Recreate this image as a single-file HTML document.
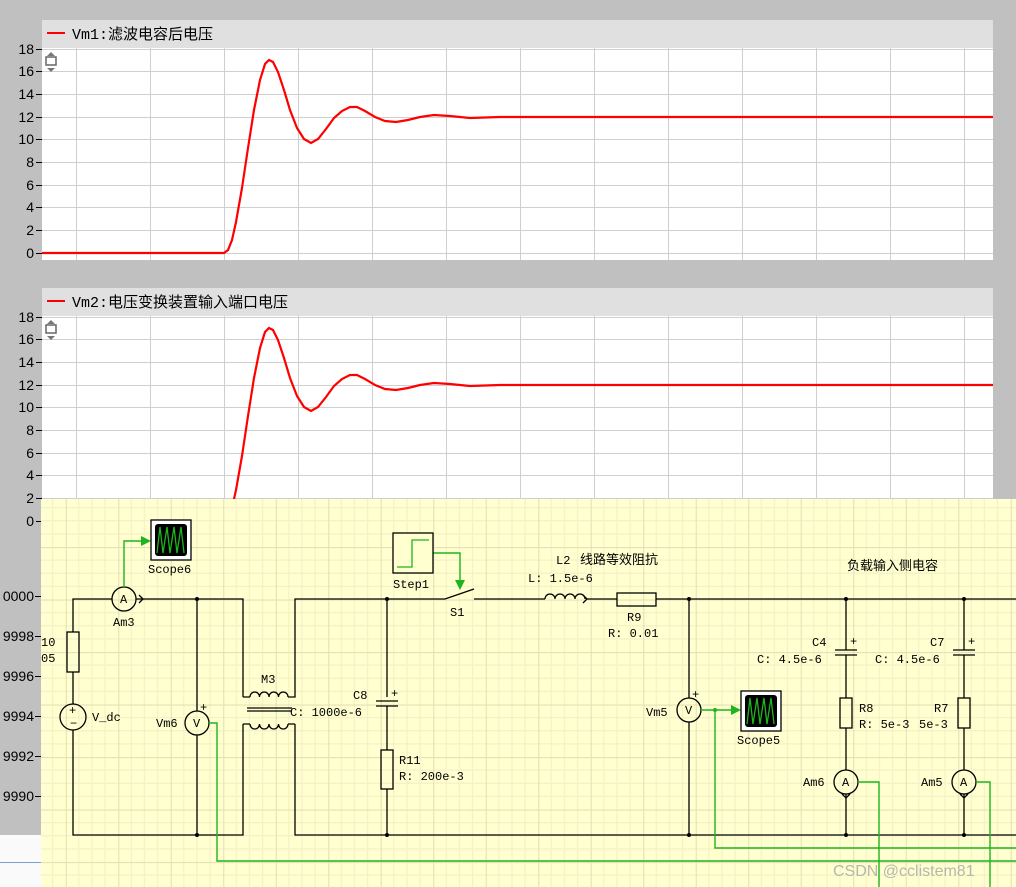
<!DOCTYPE html>
<html><head><meta charset="utf-8"><style>
html,body{margin:0;padding:0;background:#c0c0c0;}
svg{display:block}
.ax{font-family:"Liberation Sans",sans-serif;font-size:14px;fill:#000}
.hd{font-family:"Liberation Mono","Noto Sans CJK SC",monospace;font-size:15px;fill:#000}
.lb{font-family:"Liberation Mono","Noto Sans CJK SC",monospace;font-size:12px;fill:#000}
.cj{font-family:"Liberation Sans","Noto Sans CJK SC",sans-serif;font-size:13px;fill:#000}
</style></head><body>
<svg width="1016" height="887" viewBox="0 0 1016 887" xmlns="http://www.w3.org/2000/svg">
<defs>
<pattern id="g" x="65.7" y="494.5" width="52.5" height="52.5" patternUnits="userSpaceOnUse">
<rect width="52.5" height="52.5" fill="#ffffd0"/>
<path d="M13.1 0V52.5M26.25 0V52.5M39.4 0V52.5M0 13.1H52.5M0 26.25H52.5M0 39.4H52.5" stroke="#f4f1c6" stroke-width="1.2"/>
<path d="M0.5 0V52.5M0 0.5H52.5" stroke="#e5e1b6" stroke-width="1.2"/>
</pattern>
<clipPath id="p1"><rect x="42" y="48" width="951" height="212"/></clipPath>
<clipPath id="p2"><rect x="42" y="316" width="951" height="212"/></clipPath>
</defs>
<rect width="1016" height="887" fill="#c0c0c0"/>
<!-- panel 1 -->
<rect x="42" y="20" width="951" height="28" fill="#e0e0e0"/>
<rect x="42" y="48" width="951" height="212" fill="#fff"/>
<g stroke="#cfcfcf" stroke-width="1">
<path d="M76.5 48V260M150.5 48V260M224.5 48V260M298.5 48V260M372.5 48V260M446.5 48V260M520.5 48V260M594.5 48V260M668.5 48V260M742.5 48V260M816.5 48V260M890.5 48V260M964.5 48V260"/>
<path d="M42 49.5H993M42 71.5H993M42 94.5H993M42 117.5H993M42 139.5H993M42 162.5H993M42 185.5H993M42 207.5H993M42 230.5H993M42 253.5H993"/>
</g>
<g stroke="#000"><path d="M36 49.5H42M36 71.5H42M36 94.5H42M36 117.5H42M36 139.5H42M36 162.5H42M36 185.5H42M36 207.5H42M36 230.5H42M36 253.5H42"/></g>
<g class="ax" text-anchor="end">
<text x="34" y="54">18</text><text x="34" y="76">16</text><text x="34" y="99">14</text><text x="34" y="122">12</text><text x="34" y="144">10</text><text x="34" y="167">8</text><text x="34" y="190">6</text><text x="34" y="212">4</text><text x="34" y="235">2</text><text x="34" y="258">0</text>
</g>
<line x1="47" y1="33" x2="65" y2="33" stroke="#f00" stroke-width="2"/>
<text class="hd" x="72" y="39">Vm1:滤波电容后电压</text>
<g fill="#777"><path d="M51 52l-4 4h8z M51 72l-4-4h8z"/><rect x="46" y="57" width="10" height="8" fill="none" stroke="#666" stroke-width="1.5"/></g>
<path id="cv" clip-path="url(#p1)" fill="none" stroke="#f00" stroke-width="2.2" d="M40 253L224 253L228 250L232 240L236 222L242 188L248 148L254 110L260 80L265 64L269 60L273 62L278 72L284 90L290 110L297 128L304 139L311 143L318 139L326 129L334 118L342 111L350 107L357 107L365 111L375 117L385 121L396 122L408 120L420 117L434 115L450 116L470 118L500 117L540 117L993 117"/>
<!-- panel 2 -->
<rect x="42" y="288" width="951" height="28" fill="#e0e0e0"/>
<rect x="42" y="316" width="951" height="212" fill="#fff"/>
<g stroke="#cfcfcf" stroke-width="1" transform="translate(0,268)">
<path d="M76.5 48V260M150.5 48V260M224.5 48V260M298.5 48V260M372.5 48V260M446.5 48V260M520.5 48V260M594.5 48V260M668.5 48V260M742.5 48V260M816.5 48V260M890.5 48V260M964.5 48V260"/>
<path d="M42 49.5H993M42 71.5H993M42 94.5H993M42 117.5H993M42 139.5H993M42 162.5H993M42 185.5H993M42 207.5H993M42 230.5H993M42 253.5H993"/>
</g>
<g stroke="#000" transform="translate(0,268)"><path d="M36 49.5H42M36 71.5H42M36 94.5H42M36 117.5H42M36 139.5H42M36 162.5H42M36 185.5H42M36 207.5H42M36 230.5H42M36 253.5H42"/></g>
<g class="ax" text-anchor="end" transform="translate(0,268)">
<text x="34" y="54">18</text><text x="34" y="76">16</text><text x="34" y="99">14</text><text x="34" y="122">12</text><text x="34" y="144">10</text><text x="34" y="167">8</text><text x="34" y="190">6</text><text x="34" y="212">4</text><text x="34" y="235">2</text><text x="34" y="258">0</text>
</g>
<line x1="47" y1="301" x2="65" y2="301" stroke="#f00" stroke-width="2"/>
<text class="hd" x="72" y="307">Vm2:电压变换装置输入端口电压</text>
<g fill="#777" transform="translate(0,268)"><path d="M51 52l-4 4h8z M51 72l-4-4h8z"/><rect x="46" y="57" width="10" height="8" fill="none" stroke="#666" stroke-width="1.5"/></g>
<g clip-path="url(#p2)"><use href="#cv" transform="translate(0,268)"/></g>
<!-- left axis of hidden chart -->
<rect x="0" y="835" width="41" height="52" fill="#fafafa"/>
<line x1="0" y1="862.5" x2="41" y2="862.5" stroke="#7a9fd0"/>
<g stroke="#000"><path d="M35 596.5H41M35 636.5H41M35 676.5H41M35 716.5H41M35 756.5H41M35 796.5H41"/></g>
<g class="ax" text-anchor="end">
<text x="34" y="601">0000</text><text x="34" y="641">9998</text><text x="34" y="681">9996</text><text x="34" y="721">9994</text><text x="34" y="761">9992</text><text x="34" y="801">9990</text>
</g>
<!-- schematic -->
<rect x="41" y="499" width="975" height="388" fill="url(#g)"/>
<g fill="none" stroke="#000" stroke-width="1.3">
<path d="M112 599H73V632M73 672V704M73 730V835H243V724M243 697V599H136M197 599V711M197 735V835"/>
<rect x="67" y="632" width="12" height="40"/>
<circle cx="73" cy="717" r="13"/>
<circle cx="124" cy="599" r="12"/>
<path d="M139 595l4 4-4 4"/>
<circle cx="197" cy="723" r="12"/>
<path d="M243 697H250M288 697H295V599H387V697M295 724V835H1016M243 724H250M288 724H295"/>
<path d="M250 697a4.75 5 0 0 1 9.5 0a4.75 5 0 0 1 9.5 0a4.75 5 0 0 1 9.5 0a4.75 5 0 0 1 9.5 0"/>
<path d="M250 724a4.75 5 0 0 0 9.5 0a4.75 5 0 0 0 9.5 0a4.75 5 0 0 0 9.5 0a4.75 5 0 0 0 9.5 0"/>
<path d="M247 708H292M247 711H292"/>
<path d="M376 701H398M376 706H398M387 706V750M387 789V835"/>
<rect x="381" y="750" width="12" height="39"/>
<path d="M387 599H445L474 589M474 599H545M586 599H617M656 599H1016"/>
<path d="M545 599a5 5 0 0 1 10 0a5 5 0 0 1 10 0a5 5 0 0 1 10 0a5 5 0 0 1 10 0"/>
<path d="M583 595l4 4-4 4"/>
<rect x="617" y="593" width="39" height="13"/>
<path d="M689 599V698M689 722V835"/>
<circle cx="689" cy="710" r="12"/>
<path d="M846 599V650M835 650H857M835 655H857M846 655V698M846 728V770M846 794V835"/>
<rect x="840" y="698" width="12" height="30"/>
<circle cx="846" cy="782" r="12"/>
<path d="M842 794l4 4 4-4"/>
<path d="M964 599V650M953 650H975M953 655H975M964 655V698M964 728V770M964 794V835"/>
<rect x="958" y="698" width="12" height="30"/>
<circle cx="964" cy="782" r="12"/>
<path d="M960 794l4 4 4-4"/>
</g>
<g fill="#000">
<circle cx="197" cy="599" r="2"/><circle cx="197" cy="835" r="2"/><circle cx="387" cy="599" r="2"/><circle cx="387" cy="835" r="2"/>
<circle cx="689" cy="599" r="2"/><circle cx="689" cy="835" r="2"/><circle cx="846" cy="599" r="2"/><circle cx="846" cy="835" r="2"/>
<circle cx="964" cy="599" r="2"/><circle cx="964" cy="835" r="2"/>
</g>
<g fill="none" stroke="#1db51d" stroke-width="1.4">
<path d="M124 587V541H143"/>
<path d="M209 723H217V861H1016"/>
<path d="M433 553H460V582"/>
<path d="M701 710H733"/>
<path d="M715 710V848H1016"/>
<path d="M858 782H879V887"/>
<path d="M976 782H990V887"/>
</g>
<g fill="#1db51d"><path d="M141 536l10 5-10 5z"/><path d="M455 580l5 10 5-10z"/><path d="M731 705l10 5-10 5z"/><circle cx="715" cy="710" r="2"/></g>
<g>
<rect x="151" y="520" width="40" height="40" fill="#fff" stroke="#000" stroke-width="1.3"/>
<rect x="155" y="524" width="32" height="32" rx="3" fill="#000"/>
<path d="M157 553L160 527L163 553L167 527L170 553L174 527L177 553L181 527L184 553" fill="none" stroke="#1db51d" stroke-width="1.3"/>
<rect x="741" y="691" width="40" height="40" fill="#fff" stroke="#000" stroke-width="1.3"/>
<rect x="745" y="695" width="32" height="32" rx="3" fill="#000"/>
<path d="M747 724L750 698L753 724L757 698L760 724L764 698L767 724L771 698L774 724" fill="none" stroke="#1db51d" stroke-width="1.3"/>
<rect x="393" y="533" width="40" height="40" fill="#ffffd0" stroke="#000" stroke-width="1.3"/>
<path d="M397 567H412V540H429" fill="none" stroke="#1db51d" stroke-width="1.3"/>
</g>
<g class="lb">
<text x="113" y="626">Am3</text>
<text x="148" y="573">Scope6</text>
<text x="41" y="646">10</text><text x="41" y="662">05</text>
<text x="92" y="721">V_dc</text>
<text x="156" y="727">Vm6</text>
<text x="261" y="683">M3</text>
<text x="353" y="699">C8</text>
<text x="290" y="716">C: 1000e-6</text>
<text x="399" y="764">R11</text><text x="399" y="780">R: 200e-3</text>
<text x="393" y="588">Step1</text>
<text x="450" y="616">S1</text>
<text x="556" y="564">L2</text>
<text x="528" y="582">L: 1.5e-6</text>
<text x="627" y="621">R9</text>
<text x="608" y="637">R: 0.01</text>
<text x="646" y="716">Vm5</text>
<text x="737" y="744">Scope5</text>
<text x="812" y="646">C4</text>
<text x="757" y="663">C: 4.5e-6</text>
<text x="859" y="712">R8</text><text x="859" y="728">R: 5e-3</text>
<text x="803" y="786">Am6</text>
<text x="930" y="646">C7</text>
<text x="875" y="663">C: 4.5e-6</text>
<text x="934" y="712">R7</text><text x="919" y="728">5e-3</text>
<text x="921" y="786">Am5</text>
</g>
<g class="lb" font-size="11px">
<text x="120" y="603">A</text><text x="193" y="727">V</text><text x="685" y="714">V</text><text x="842" y="786">A</text><text x="960" y="786">A</text>
<text x="69" y="714">+</text><text x="70" y="727">−</text>
<text x="200" y="711">+</text><text x="391" y="697">+</text><text x="692" y="698">+</text><text x="850" y="645">+</text><text x="968" y="645">+</text>
</g>
<text class="cj" x="580" y="564">线路等效阻抗</text>
<text class="cj" x="847" y="570">负载输入侧电容</text>
<text x="833" y="876" font-family="Liberation Sans,sans-serif" font-size="16" fill="#aaa" fill-opacity="0.85">CSDN @cclistem81</text>
</svg>
</body></html>
